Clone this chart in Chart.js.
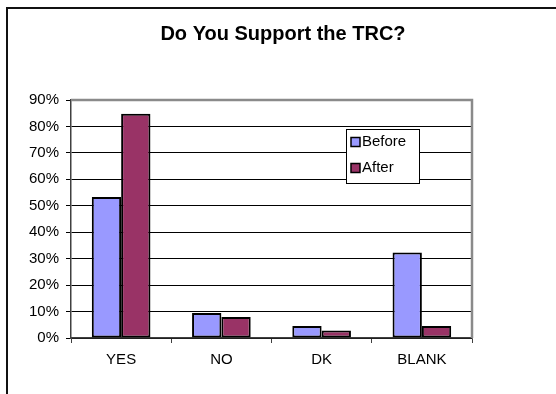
<!DOCTYPE html>
<html>
<head>
<meta charset="utf-8">
<style>
  html, body { margin: 0; padding: 0; background: #fff; }
  #wrap { width: 556px; height: 394px; }
</style>
<script src="https://cdn.jsdelivr.net/npm/chart.js@4/dist/chart.umd.min.js"></script>
</head>
<body>
<div id="wrap"><canvas id="c" width="556" height="394"></canvas></div>
<script>
// Survey answers, percent of respondents
const categories = ['YES', 'NO', 'DK', 'BLANK'];
const seriesNames = ['Before', 'After'];
const beforeValues = [53.3, 9.5, 4.5, 32.3];
const afterValues = [84.8, 7.9, 2.8, 4.5];
const yTicks = [0, 10, 20, 30, 40, 50, 60, 70, 80, 90];
const chartTitle = 'Do You Support the TRC?';

const FONT = 'Arial, "Liberation Sans", Helvetica, sans-serif';
Chart.defaults.font.family = FONT;
Chart.defaults.font.size = 15;
Chart.defaults.color = '#000';

// Outer frame, title, plot border and boxed legend
const decorations = {
  id: 'decorations',
  beforeDraw(chart) {
    const ctx = chart.ctx;
    ctx.save();
    ctx.fillStyle = '#fff';
    ctx.fillRect(0, 0, chart.width, chart.height);
    ctx.strokeStyle = '#111';
    ctx.lineWidth = 2;
    ctx.beginPath();
    ctx.moveTo(7, chart.height + 2);
    ctx.lineTo(7, 8);
    ctx.lineTo(chart.width + 2, 8);
    ctx.stroke();
    ctx.font = 'bold 20px ' + FONT;
    ctx.fillStyle = '#000';
    ctx.textAlign = 'center';
    ctx.textBaseline = 'middle';
    ctx.fillText(chartTitle, 283, 34);
    ctx.restore();
  },
  beforeDatasetsDraw(chart) {
    const { ctx, chartArea: a } = chart;
    ctx.save();
    ctx.strokeStyle = '#8a8a8a';
    ctx.lineWidth = 2.5;
    ctx.beginPath();
    ctx.moveTo(a.left, a.top);
    ctx.lineTo(a.right, a.top);
    ctx.lineTo(a.right, a.bottom);
    ctx.stroke();
    ctx.restore();
  },
  afterDraw(chart) {
    const { ctx, chartArea: a } = chart;
    const x = a.right - 126, y = a.top + 29, w = 73, h = 54;
    ctx.save();
    ctx.fillStyle = '#fff';
    ctx.fillRect(x, y, w, h);
    ctx.strokeStyle = '#000';
    ctx.lineWidth = 1;
    ctx.strokeRect(x + 0.5, y + 0.5, w, h);
    ctx.font = '15px ' + FONT;
    ctx.textBaseline = 'middle';
    ctx.textAlign = 'left';
    chart.data.datasets.forEach((ds, i) => {
      const cy = y + 13 + i * 26;
      ctx.fillStyle = ds.backgroundColor;
      ctx.fillRect(x + 5, cy - 4.5, 9, 9);
      ctx.lineWidth = 1.5;
      ctx.strokeStyle = '#000';
      ctx.strokeRect(x + 5, cy - 4.5, 9, 9);
      ctx.fillStyle = '#000';
      ctx.fillText(ds.label, x + 16, cy);
    });
    ctx.restore();
  }
};

new Chart(document.getElementById('c'), {
  type: 'bar',
  data: {
    labels: categories,
    datasets: [
      { label: seriesNames[0], data: beforeValues, backgroundColor: '#9999FF', borderColor: '#000', borderWidth: 2, borderSkipped: false },
      { label: seriesNames[1], data: afterValues, backgroundColor: '#993366', borderColor: '#000', borderWidth: 2, borderSkipped: false }
    ]
  },
  options: {
    responsive: false,
    devicePixelRatio: 1,
    animation: false,
    layout: { padding: { left: 7, right: 84, top: 100, bottom: 16 } },
    datasets: { bar: { barPercentage: 1, categoryPercentage: 0.585 } },
    plugins: {
      legend: { display: false },
      title: { display: false },
      tooltip: { enabled: false }
    },
    scales: {
      x: {
        afterFit(scale) { scale.height = 40; },
        grid: { offset: true, drawOnChartArea: false, tickLength: 5, color: '#404040', lineWidth: 1 },
        border: { color: '#404040', width: 1.5 },
        ticks: { padding: 8, font: { size: 15 }, color: '#000', maxRotation: 0 }
      },
      y: {
        min: 0,
        max: 90,
        afterFit(scale) { scale.width = 64; },
        afterBuildTicks(scale) { scale.ticks = yTicks.map(v => ({ value: v })); },
        grid: {
          tickLength: 5,
          color: c => (c.tick && c.tick.value === 90) ? 'rgba(0,0,0,0)' : '#000',
          tickColor: '#000',
          lineWidth: 1
        },
        border: { color: '#404040', width: 1.5 },
        ticks: { padding: 7, font: { size: 15 }, color: '#000', callback: v => v + '%' }
      }
    }
  },
  plugins: [decorations]
});
</script>
</body>
</html>
